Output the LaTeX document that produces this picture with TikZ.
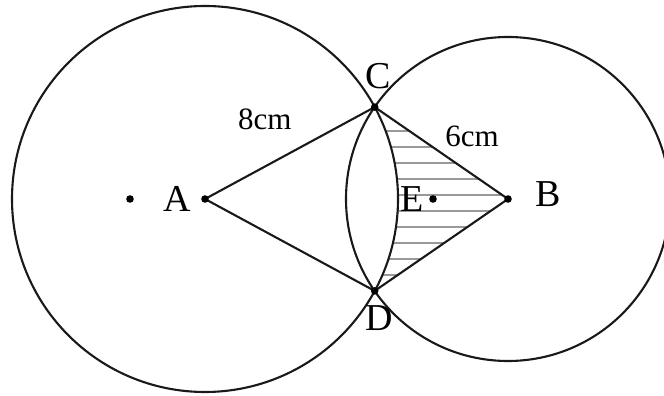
\documentclass[tikz,border=0pt]{standalone}
\usepackage{fontspec}
\setmainfont{Liberation Serif}
\usetikzlibrary{positioning,calc}

\begin{document}
\begin{tikzpicture}[
  x=1pt,y=1pt,
  ln/.style={line width=2.1pt,draw=black!90},
  hatch/.style={line width=1.1pt,draw=black!40},
  dot/.style={fill=black},
  pt/.style={inner sep=0pt,font=\fontsize{38}{38}\selectfont},
  len/.style={inner sep=0pt,font=\fontsize{31}{31}\selectfont}
]
\useasboundingbox (0,0) rectangle (664,396);
\clip (0,0) rectangle (664,396);

\coordinate (A) at (205,197);
\coordinate (B) at (508,197);
\coordinate (C) at ($(A)+(28.44:193)$);
\coordinate (D) at ($(A)+(-28.44:193)$);
\coordinate (E) at (433,197);
\coordinate (P) at (130,197);

% hatched part
\begin{scope}
  \clip (B) -- (C) arc[start angle=28.44,end angle=-28.44,radius=193] -- cycle;
  \foreach \y in {121,137,...,265}
    \draw[hatch] (360,\y) -- (520,\y);
\end{scope}

\draw[ln] (A) circle[radius=193];
\draw[ln] (B) circle[radius=162];
\draw[ln] (A) -- node[len,above=22pt,xshift=-25pt] (len8) {8cm} (C)
  -- node[len,above right=5pt and 3pt] (len6) {6cm} (B) -- (D) -- cycle;

\foreach \p in {A,B,C,D,E,P}
  \fill[dot] (\p) circle[radius=3.8];

\node[pt,left=14pt of A] (labA) {A};
\node[pt,right=27pt of B,yshift=5pt] (labB) {B};
\node[pt,above=18pt of C,xshift=3pt] (labC) {C};
\node[pt,below=15pt of D,xshift=5pt] (labD) {D};
\node[pt,left=9pt of E] (labE) {E};
\end{tikzpicture}
\end{document}
